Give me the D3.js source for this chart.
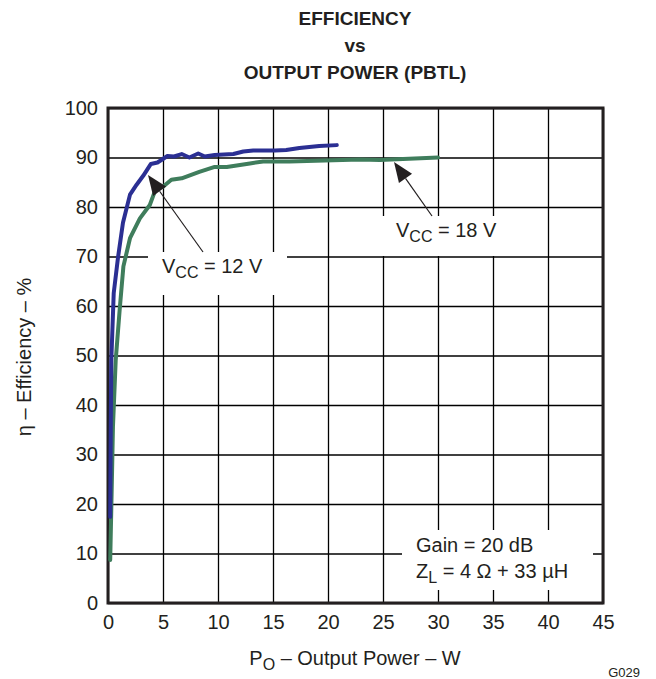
<!DOCTYPE html>
<html>
<head>
<meta charset="utf-8">
<script src="https://cdn.jsdelivr.net/npm/d3@7"></script>
<style>
  body { margin: 0; background: #fff; }
  text { font-family: "Liberation Sans", Arial, Helvetica, sans-serif; fill: #231f20; }
</style>
</head>
<body>
<svg id="chart" width="656" height="679"></svg>
<script>
/*global d3*/

// data
var vcc12Power = [0.2, 0.25, 0.3, 0.52, 0.91, 1.36, 2.0, 2.6, 3.2, 3.9, 4.5, 5.4, 6.0, 6.7, 7.4, 8.2, 8.8, 9.7, 11.4, 12.3, 13.2, 15.2, 16.2, 17.4, 19.2, 20.8];
var vcc12Eff   = [17.4, 35.6, 49, 62.6, 69.8, 76.8, 82.5, 84.5, 86.3, 88.7, 89.0, 90.3, 90.2, 90.7, 90.0, 90.8, 90.2, 90.5, 90.7, 91.2, 91.4, 91.4, 91.5, 91.9, 92.3, 92.5];

var vcc18Power = [0.2, 0.33, 0.45, 0.7, 1.06, 1.4, 2.0, 2.9, 3.8, 4.25, 4.4, 5.0, 5.76, 6.7, 8.3, 9.7, 10.8, 12.9, 14.1, 16.5, 22.9, 24.7, 30.0];
var vcc18Eff   = [8.7, 22.2, 35.6, 49, 59.2, 68.0, 73.7, 77.7, 80.4, 83.1, 84.1, 84.1, 85.5, 85.8, 87.1, 88.1, 88.1, 88.8, 89.2, 89.2, 89.6, 89.5, 90.0];

var xTicks = [0, 5, 10, 15, 20, 25, 30, 35, 40, 45];
var yTicks = [0, 10, 20, 30, 40, 50, 60, 70, 80, 90, 100];

var titleLines = ["EFFICIENCY", "vs", "OUTPUT POWER (PBTL)"];

var svg = d3.select("#chart");
var margin = {top: 108, right: 53, bottom: 76, left: 108},
    width = 656 - margin.left - margin.right,
    height = 679 - margin.top - margin.bottom;

var x = d3.scaleLinear().domain([0, 45]).range([margin.left, margin.left + width]);
var y = d3.scaleLinear().domain([0, 100]).range([margin.top + height, margin.top]);

// title
svg.append("g").selectAll("text")
    .data(titleLines)
    .enter().append("text")
    .attr("x", 355)
    .attr("y", (d, i) => [25, 52, 79][i])
    .attr("text-anchor", "middle")
    .style("font-size", "19px")
    .style("font-weight", "bold")
    .text(d => d);

// grid + tick labels
var xAxis = svg.append("g")
    .attr("transform", `translate(0,${margin.top + height})`)
    .call(d3.axisBottom(x).tickValues(xTicks).tickSize(-height).tickPadding(12));
var yAxis = svg.append("g")
    .attr("transform", `translate(${margin.left},0)`)
    .call(d3.axisLeft(y).tickValues(yTicks).tickSize(-width).tickPadding(10));

[xAxis, yAxis].forEach(function(a) {
    a.select(".domain").remove();
    a.selectAll("line").attr("stroke", "#000").attr("stroke-width", 1.3);
    a.selectAll("text").style("font-size", "20px").attr("fill", "#231f20");
});

// white label boxes hide the grid
var boxes = [[148, 252, 139, 43], [381, 216, 124, 40], [402, 530, 191, 60]];
svg.append("g").selectAll("rect")
    .data(boxes)
    .enter().append("rect")
    .attr("x", d => d[0]).attr("y", d => d[1])
    .attr("width", d => d[2]).attr("height", d => d[3])
    .attr("fill", "#fff");

// frame
svg.append("rect")
    .attr("x", margin.left).attr("y", margin.top)
    .attr("width", width).attr("height", height)
    .attr("fill", "none")
    .attr("stroke", "#231f20")
    .attr("stroke-width", 3);

// curves
var line = d3.line()
    .x(d => x(d[0]))
    .y(d => y(d[1]));

svg.append("path")
    .datum(d3.zip(vcc18Power, vcc18Eff))
    .attr("fill", "none")
    .attr("stroke", "#3f7d5c")
    .attr("stroke-width", 4)
    .attr("stroke-linejoin", "round")
    .attr("stroke-linecap", "round")
    .attr("d", line);

svg.append("path")
    .datum(d3.zip(vcc12Power, vcc12Eff))
    .attr("fill", "none")
    .attr("stroke", "#2b2f93")
    .attr("stroke-width", 4)
    .attr("stroke-linejoin", "round")
    .attr("stroke-linecap", "round")
    .attr("d", line);

// arrows
function arrow(x1, y1, x2, y2) {
    var ang = Math.atan2(y2 - y1, x2 - x1);
    var len = 20, half = 8;
    var bx = x2 - len * Math.cos(ang), by = y2 - len * Math.sin(ang);
    svg.append("line")
        .attr("x1", x1).attr("y1", y1)
        .attr("x2", bx).attr("y2", by)
        .attr("stroke", "#231f20").attr("stroke-width", 1.2);
    var pts = [
        [x2, y2],
        [bx + half * Math.sin(ang), by - half * Math.cos(ang)],
        [bx - half * Math.sin(ang), by + half * Math.cos(ang)]
    ];
    svg.append("path")
        .attr("d", "M" + pts.join("L") + "Z")
        .attr("fill", "#231f20");
}
arrow(203, 252, 148, 175);
arrow(432, 216, 394, 162);

// annotations
function vcc(xp, yp, val) {
    var t = svg.append("text").attr("x", xp).attr("y", yp).style("font-size", "20px");
    t.append("tspan").text("V");
    t.append("tspan").attr("dy", 5).style("font-size", "16px").text("CC");
    t.append("tspan").attr("dy", -5).text(" = " + val + " V");
}
vcc(162, 273, 12);
vcc(396, 237, 18);

svg.append("text").attr("x", 416).attr("y", 552).style("font-size", "20px").text("Gain = 20 dB");
var zl = svg.append("text").attr("x", 416).attr("y", 578).style("font-size", "20px");
zl.append("tspan").text("Z");
zl.append("tspan").attr("dy", 5).style("font-size", "16px").text("L");
zl.append("tspan").attr("dy", -5).text(" = 4 \u03A9 + 33 \u00B5H");

// axis titles
var xt = svg.append("text")
    .attr("x", 355).attr("y", 665)
    .attr("text-anchor", "middle")
    .style("font-size", "20px");
xt.append("tspan").text("P");
xt.append("tspan").attr("dy", 5).style("font-size", "16px").text("O");
xt.append("tspan").attr("dy", -5).text(" \u2013 Output Power \u2013 W");

svg.append("text")
    .attr("transform", "translate(31,357) rotate(-90)")
    .attr("text-anchor", "middle")
    .style("font-size", "20px")
    .text("\u03B7 \u2013 Efficiency \u2013 %");

svg.append("text")
    .attr("x", 640).attr("y", 677)
    .attr("text-anchor", "end")
    .style("font-size", "13px")
    .text("G029");
</script>
</body>
</html>
